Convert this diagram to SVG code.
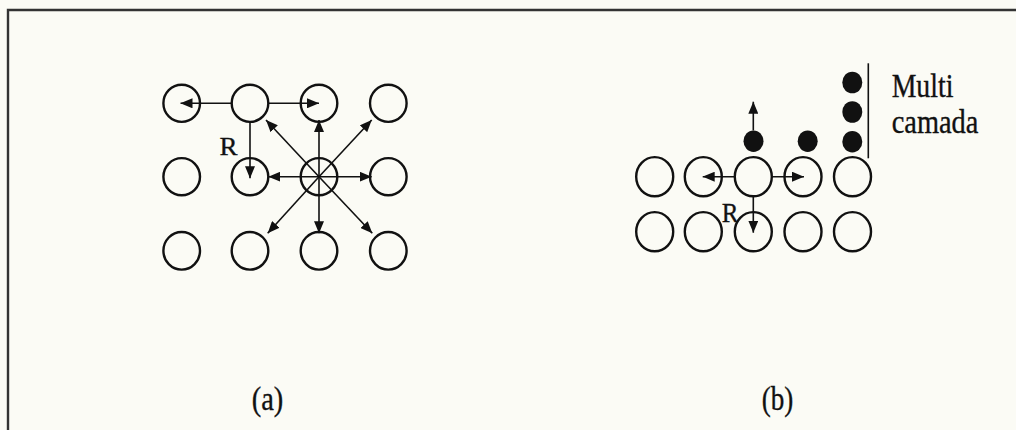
<svg xmlns="http://www.w3.org/2000/svg" width="1016" height="430" viewBox="0 0 1016 430">
<defs>
<marker id="ah" viewBox="0 0 12 10" refX="12" refY="5" markerWidth="12" markerHeight="10" markerUnits="userSpaceOnUse" orient="auto">
<path d="M0,0 L12,5 L0,10 z" fill="#111"/>
</marker>
<style>
.c{fill:none;stroke:#111;stroke-width:2.4}
.d{fill:#111;stroke:none}
.a{stroke:#111;stroke-width:1.6;fill:none;marker-end:url(#ah)}
.t{font-family:"Liberation Serif","Times New Roman",serif;fill:#111;stroke:#111;stroke-width:0.35}
</style>
</defs>
<rect x="0" y="0" width="1016" height="430" fill="#fbfbf5"/>
<path d="M8,430 V10 H1016" fill="none" stroke="#333" stroke-width="2.4"/>

<g id="panel-a">
<g id="a-r1c1"><ellipse class="c" cx="181.7" cy="103.3" rx="18.3" ry="18.6"/></g>
<g id="a-r1c2"><ellipse class="c" cx="250" cy="103.3" rx="18.3" ry="18.6"/></g>
<g id="a-r1c3"><ellipse class="c" cx="319" cy="103.3" rx="18.3" ry="18.6"/></g>
<g id="a-r1c4"><ellipse class="c" cx="388.3" cy="103.3" rx="18.3" ry="18.6"/></g>
<g id="a-r2c1"><ellipse class="c" cx="181.7" cy="176.7" rx="18.3" ry="18.6"/></g>
<g id="a-r2c2"><ellipse class="c" cx="250" cy="176.7" rx="18.3" ry="18.6"/></g>
<g id="a-r2c3"><ellipse class="c" cx="319" cy="176.7" rx="18.3" ry="18.6"/></g>
<g id="a-r2c4"><ellipse class="c" cx="388.3" cy="176.7" rx="18.3" ry="18.6"/></g>
<g id="a-r3c1"><ellipse class="c" cx="181.7" cy="250.8" rx="18.3" ry="18.8"/></g>
<g id="a-r3c2"><ellipse class="c" cx="250" cy="250.8" rx="18.3" ry="18.8"/></g>
<g id="a-r3c3"><ellipse class="c" cx="319" cy="250.8" rx="18.3" ry="18.8"/></g>
<g id="a-r3c4"><ellipse class="c" cx="388.3" cy="250.8" rx="18.3" ry="18.8"/></g>
<text class="t" x="219.5" y="155" font-size="26" textLength="18" lengthAdjust="spacingAndGlyphs">R</text>
<text class="t" x="251.7" y="410" font-size="33" textLength="31.6" lengthAdjust="spacingAndGlyphs">(a)</text>
</g>

<g id="panel-b">
<g id="b-r1c1"><ellipse class="c" cx="654.7" cy="176.7" rx="18.5" ry="19.6"/></g>
<g id="b-r1c2"><ellipse class="c" cx="703.3" cy="176.7" rx="18.5" ry="19.6"/></g>
<g id="b-r1c3"><ellipse class="c" cx="753.3" cy="176.7" rx="18.5" ry="19.6"/></g>
<g id="b-r1c4"><ellipse class="c" cx="803" cy="176.7" rx="18.5" ry="19.6"/></g>
<g id="b-r1c5"><ellipse class="c" cx="852.5" cy="176.7" rx="18.5" ry="19.6"/></g>
<g id="b-r2c1"><ellipse class="c" cx="654.7" cy="231.7" rx="18.5" ry="19.6"/></g>
<g id="b-r2c2"><ellipse class="c" cx="703.3" cy="231.7" rx="18.5" ry="19.6"/></g>
<g id="b-r2c3"><ellipse class="c" cx="753.3" cy="231.7" rx="18.5" ry="19.6"/></g>
<g id="b-r2c4"><ellipse class="c" cx="803" cy="231.7" rx="18.5" ry="19.6"/></g>
<g id="b-r2c5"><ellipse class="c" cx="852.5" cy="231.7" rx="18.5" ry="19.6"/></g>
<g id="b-dot1"><ellipse class="d" cx="753.5" cy="141.2" rx="10" ry="10.8"/></g>
<g id="b-dot2"><ellipse class="d" cx="807.7" cy="141.2" rx="10" ry="10.8"/></g>
<g id="b-dot3"><ellipse class="d" cx="852.3" cy="141.7" rx="10" ry="10.8"/></g>
<g id="b-dot4"><ellipse class="d" cx="852.3" cy="112" rx="10" ry="10.8"/></g>
<g id="b-dot5"><ellipse class="d" cx="852.3" cy="82.5" rx="10" ry="10.8"/></g>
<line x1="868.3" y1="63.3" x2="868.3" y2="158.3" stroke="#111" stroke-width="1.6"/>
<text class="t" x="891.7" y="96.7" font-size="33" textLength="61.7" lengthAdjust="spacingAndGlyphs">Multi</text>
<text class="t" x="891.7" y="133.3" font-size="33" textLength="86.7" lengthAdjust="spacingAndGlyphs">camada</text>
<text class="t" x="721.7" y="221.7" font-size="27" textLength="16.7" lengthAdjust="spacingAndGlyphs">R</text>
<text class="t" x="761.7" y="410" font-size="33" textLength="31.6" lengthAdjust="spacingAndGlyphs">(b)</text>
</g>

<g id="connectors">
<line class="a" x1="231.7" y1="103.3" x2="180.5" y2="103.3"/>
<line class="a" x1="268.3" y1="103.3" x2="319" y2="103.3"/>
<line class="a" x1="250" y1="121.7" x2="250" y2="178.3"/>
<line class="a" x1="319" y1="176.7" x2="319" y2="120"/>
<line class="a" x1="319" y1="176.7" x2="319" y2="233.3"/>
<line class="a" x1="319" y1="176.7" x2="268.3" y2="176.7"/>
<line class="a" x1="319" y1="176.7" x2="371.7" y2="176.7"/>
<line class="a" x1="319" y1="176.7" x2="266" y2="120"/>
<line class="a" x1="319" y1="176.7" x2="371.7" y2="120"/>
<line class="a" x1="319" y1="176.7" x2="267.7" y2="233.3"/>
<line class="a" x1="319" y1="176.7" x2="372.3" y2="233.3"/>
<line class="a" x1="753.3" y1="130.5" x2="753.3" y2="101.7"/>
<line class="a" x1="735" y1="176.7" x2="702.7" y2="176.7"/>
<line class="a" x1="771.7" y1="176.7" x2="804" y2="176.7"/>
<line class="a" x1="753.3" y1="196.3" x2="753.3" y2="232.7"/>
</g>
</svg>
